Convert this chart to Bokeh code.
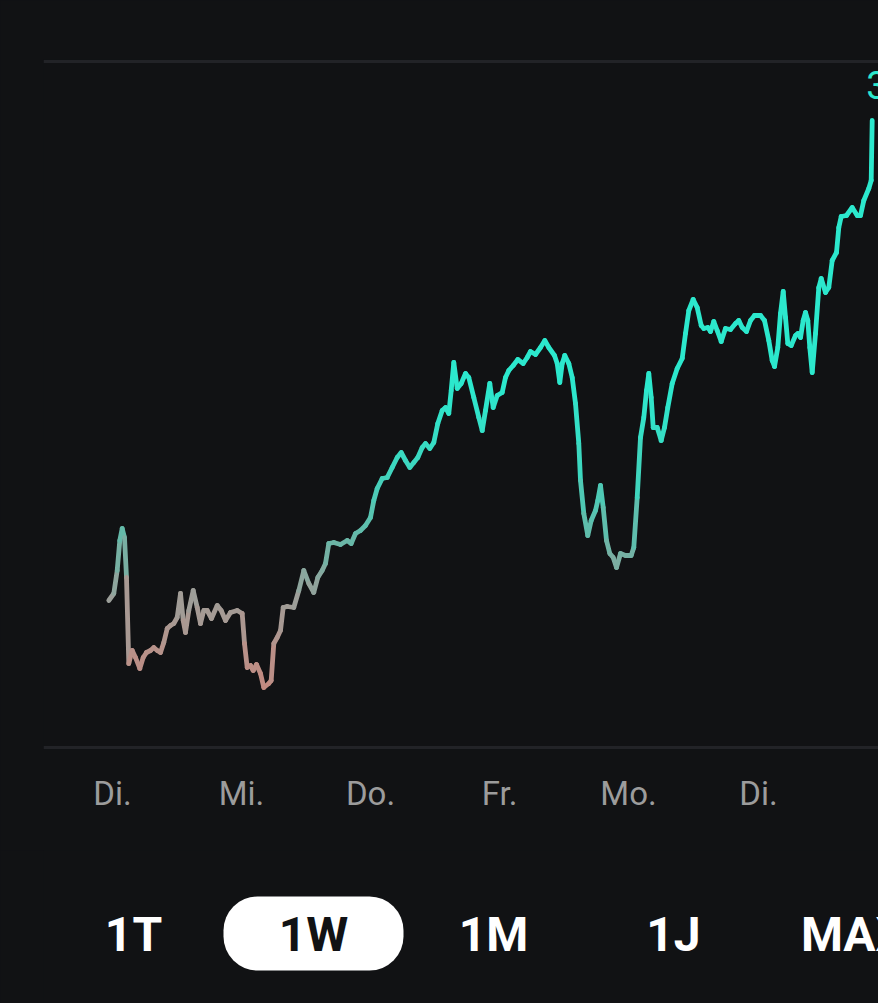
from bokeh.plotting import figure
from bokeh.models import ColumnDataSource, Range1d, Span, FixedTicker, BoxAnnotation, Label, GlobalInlineStyleSheet
from bokeh.layouts import column
from bokeh.transform import linear_cmap
from bokeh.core.properties import value
from bokeh.embed import file_html
from bokeh.resources import INLINE

# ---------------- data (time position, value above chart baseline) ----------------
t = [108.3, 113.3, 116.7, 119.3, 121.7, 124, 126, 128.3, 131.7, 135, 139.3, 142.7, 146, 150, 153.3,
     156.7, 160, 163.3, 166.7, 170, 173.3, 176.7, 180, 182.7, 185, 188.3, 192.7, 196.7, 200, 203.3,
     206.7, 211, 216.7, 220.7, 225, 230, 236.7, 241.7, 244, 246.7, 250, 252.7, 256, 260, 263.3,
     268.3, 270.7, 273.3, 276.7, 280, 282.7, 286.7, 293.3, 298.3, 303.3, 308.3, 313.3, 317.3, 321.7,
     325, 328.3, 333.3, 340, 346.7, 350.7, 355, 360, 365, 370, 373.3, 376.7, 381.7, 386.7, 391.7,
     396.7, 400.7, 405, 409.3, 413.3, 417.3, 421.7, 425, 429.3, 433.3, 437.3, 441.7, 445, 448.3,
     450.7, 453.3, 456.7, 460.7, 465, 468.3, 473.3, 478.3, 481.7, 485, 489.3, 492.7, 496.7, 501.7,
     505, 508.3, 512.7, 517.3, 522.7, 526.7, 530, 535, 540, 544.3, 548.3, 554, 556.7, 559.3, 561.7,
     564.3, 568.3, 571.7, 575, 578.3, 580, 583.3, 587.3, 590.7, 595, 597.3, 600, 602.7, 606, 609.3,
     612.7, 616, 620, 625, 630.7, 633.3, 636.7, 640, 643.3, 646, 648.3, 650.7, 652.7, 656.7, 660.7,
     664, 667.3, 671.7, 676.7, 681.7, 685, 688.3, 692.7, 696.7, 700.7, 703.3, 707.3, 710, 713.3,
     716.7, 720.7, 725, 730, 735, 738.3, 741.7, 746, 750, 754, 760, 764, 768.3, 771.7, 774, 777.3,
     780, 782.7, 785, 787.3, 790.7, 795, 797.3, 800, 802.7, 805, 807.3, 809.3, 811.7, 815, 818.3,
     820.7, 825, 828.3, 831.7, 836, 838.3, 840.7, 846, 851.7, 856.7, 860, 863.3, 868.3, 870.7, 871.7]
v = [147, 154, 177, 207, 219, 210, 170, 84, 97, 90, 79, 90, 95, 97, 100,
     97, 95, 105, 119, 122, 124, 130, 154, 127, 115, 137, 157, 140, 124, 137,
     137, 129, 142, 137, 127, 135, 137, 134, 104, 80, 82, 77, 83, 74, 60,
     64, 67, 104, 110, 117, 140, 141, 140, 157, 177, 164, 155, 170, 177,
     184, 204, 205, 203, 207, 204, 214, 217, 222, 230, 247, 259, 269, 270, 280,
     290, 295, 287, 280, 285, 290, 300, 304, 299, 305, 324, 337, 340, 334,
     357, 385, 359, 364, 374, 370, 350, 330, 317, 337, 364, 340, 352, 355,
     370, 377, 382, 388, 384, 390, 396, 393, 400, 407, 400, 392, 384, 365, 384,
     392, 384, 370, 344, 304, 267, 234, 212, 227, 237, 247, 262, 240, 207, 194,
     190, 180, 194, 192, 192, 200, 250, 310, 330, 357, 374, 350, 320, 320, 307,
     320, 340, 364, 379, 389, 414, 437, 448, 440, 422, 419, 420, 416, 426,
     417, 406, 419, 418, 424, 427, 420, 416, 427, 432, 432, 427, 407, 387, 381, 400,
     434, 456, 430, 404, 402, 412, 414, 410, 427, 435, 427, 400, 375, 414, 460,
     469, 455, 460, 487, 495, 520, 531, 532, 540, 532, 532, 547, 559, 567, 627]

day_ticks = [112, 241, 370, 499, 628, 758]
day_labels = ["Di.", "Mi.", "Do.", "Fr.", "Mo.", "Di."]
periods = ["1T", "1W", "1M", "1J", "MAX"]
selected_period = "1W"
title_text = "Woche"
change_text = "+ 180,05 €"
max_label_text = "3"

# ---------------- styling ----------------
BG = "#111214"
TEAL = "#2ce8cd"
GRID = "#222327"
W = 878
H_MAIN = 850
H_BTN = 153
FONT = "Roboto"

stops = [(0.0, (194, 138, 128)), (0.12, (184, 146, 138)), (0.3, (156, 158, 153)),
         (0.5, (102, 184, 168)), (0.75, (60, 216, 192)), (1.0, (44, 232, 205))]
palette = []
for i in range(256):
    f = i / 255
    for (f0, c0), (f1, c1) in zip(stops[:-1], stops[1:]):
        if f0 <= f <= f1:
            a = (f - f0) / (f1 - f0)
            c = tuple(int(round(c0[k] + (c1[k] - c0[k]) * a)) for k in range(3))
            break
    palette.append("#%02x%02x%02x" % c)

# ---------------- main chart ----------------
p = figure(width=W, height=H_MAIN, output_backend="svg", toolbar_location=None,
           x_range=Range1d(43, 878), y_range=Range1d(-2, 688), y_axis_location=None,
           min_border_left=43, min_border_right=0, min_border_top=59, min_border_bottom=101,
           background_fill_color=BG, border_fill_color=BG, outline_line_color=None)
p.grid.visible = False

p.add_layout(Span(location=0, dimension="width", line_color=GRID, line_width=3))
p.add_layout(Span(location=686, dimension="width", line_color=GRID, line_width=3))

src = ColumnDataSource(dict(
    x0=t[:-1], x1=t[1:], y0=v[:-1], y1=v[1:],
    ym=[(a + b) / 2 for a, b in zip(v[:-1], v[1:])],
))
p.segment(x0="x0", y0="y0", x1="x1", y1="y1", source=src, line_width=4.8, line_cap="round",
          line_color=linear_cmap("ym", palette, 60, 360))

imax = v.index(max(v))
p.text(x=[t[imax]], y=[v[imax]], text=[max_label_text], text_color=TEAL, text_align="left",
       text_baseline="alphabetic", x_offset=-6, y_offset=-36, text_font=value(FONT),
       text_font_size="38px")

ax = p.xaxis[0]
ax.ticker = FixedTicker(ticks=day_ticks)
ax.major_label_overrides = {tk: lb for tk, lb in zip(day_ticks, day_labels)}
ax.axis_line_color = None
ax.major_tick_line_color = None
ax.minor_tick_line_color = None
ax.major_tick_out = 0
ax.major_label_standoff = 24
ax.major_label_text_color = "#9c9c9c"
ax.major_label_text_font = FONT
ax.major_label_text_font_size = "33px"

p.add_layout(Label(x=48, y=741, text=title_text, text_color="white", text_font=FONT,
                   text_font_style="bold", text_font_size="44px", text_baseline="alphabetic"))
p.add_layout(Label(x=213, y=741, text=change_text, text_color=TEAL, text_font=FONT,
                   text_font_style="bold", text_font_size="44px", text_baseline="alphabetic"))

# ---------------- period selector ----------------
# (its frame is aligned with the main chart's frame, which starts 43px from the left)
b = figure(width=W, height=H_BTN, output_backend="svg", toolbar_location=None,
           x_range=Range1d(-0.5, 4.1389), y_range=Range1d(0, 153),
           x_axis_location=None, y_axis_location=None, min_border=0,
           background_fill_color=BG, border_fill_color=BG, outline_line_color=None)
b.grid.visible = False
sel = periods.index(selected_period)
b.add_layout(BoxAnnotation(left=sel - 0.5, right=sel + 0.5, bottom=33, top=107, level="underlay",
                           fill_color="white", fill_alpha=1, line_color=None, border_radius=34))
b.text(x=list(range(len(periods))), y=[69] * len(periods), text=periods,
       text_color=["#111214" if p_ == selected_period else "white" for p_ in periods],
       text_align="center", text_baseline="alphabetic", text_font=value(FONT),
       text_font_style="bold", text_font_size="48px")

layout = column(p, b, spacing=0,
                stylesheets=[GlobalInlineStyleSheet(css="html, body { background: #111214; }")])

open("out.html", "w").write(file_html(layout, INLINE))
